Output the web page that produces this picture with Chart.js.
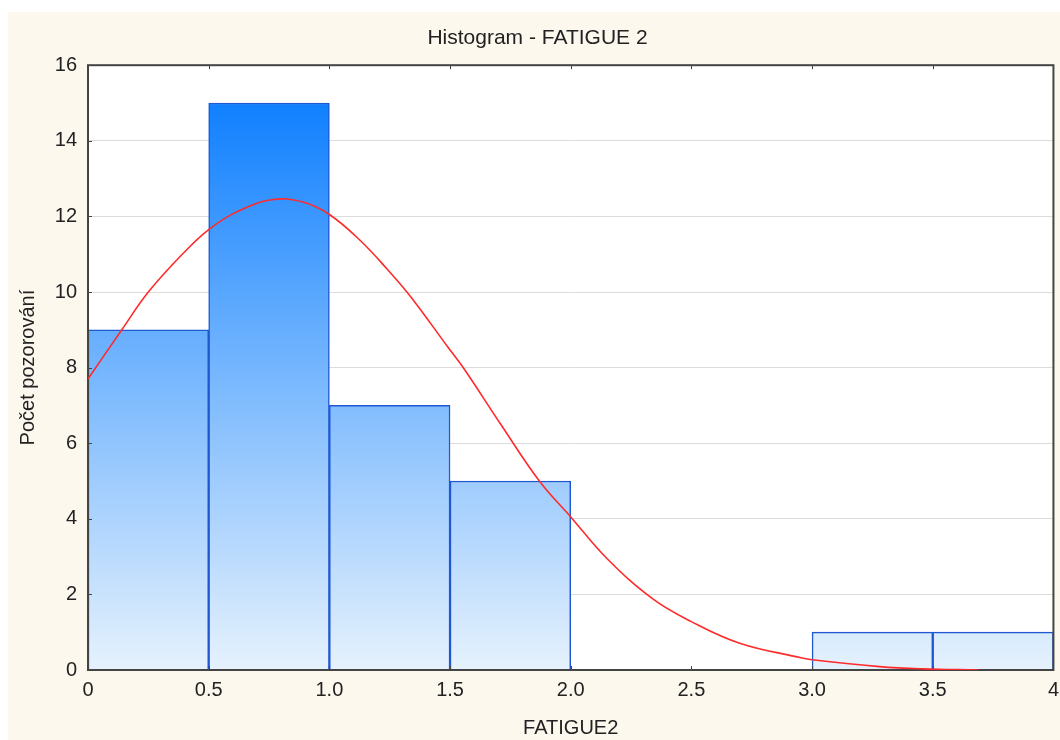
<!DOCTYPE html>
<html>
<head>
<meta charset="utf-8">
<script src="https://cdn.jsdelivr.net/npm/chart.js@4"></script>
<style>
  body { margin: 0; background: #ffffff; overflow: hidden; }
  #wrap { position: absolute; left: 8px; top: 12px; width: 1059px; height: 728px; }
</style>
</head>
<body>
<div id="wrap"><canvas id="myChart"></canvas></div>
<script>
// histogram bins (middle of each 0.5 wide bin) and counts
const binCenters = [0.25, 0.75, 1.25, 1.75, 2.25, 2.75, 3.25, 3.75];
const counts = [9, 15, 7, 5, 0, 0, 1, 1];

// red fitted curve
const curveX = [0, 0.14, 0.25, 0.40, 0.50, 0.61, 0.76, 0.89, 1.00, 1.13, 1.24, 1.34, 1.49, 1.56, 1.71, 1.87, 2.00, 2.15, 2.34, 2.50, 2.70, 2.95, 3.00, 3.28, 3.46, 3.69];
const curveY = [7.7, 9.0, 10.0, 11.06, 11.65, 12.1, 12.44, 12.38, 12.05, 11.35, 10.6, 9.85, 8.55, 7.95, 6.5, 5.0, 4.05, 2.95, 1.88, 1.28, 0.71, 0.33, 0.27, 0.09, 0.03, 0.0];

const xTickLabels = ['0', '0.5', '1.0', '1.5', '2.0', '2.5', '3.0', '3.5', '4'];

const font = 'Liberation Sans, Arial, sans-serif';

//bakgrund + ram runt plotten
const framePlugin = {
    id: 'frame',
    beforeDraw(chart) {
        const c = chart.ctx;
        const a = chart.chartArea;
        c.save();
        c.fillStyle = '#fdf8ee';
        c.fillRect(0, 0, chart.width, chart.height);
        c.fillStyle = '#ffffff';
        c.fillRect(a.left, a.top, a.right - a.left, a.bottom - a.top);
        c.restore();
    },
    afterDatasetDraw(chart, args) {
        if (args.meta.type !== 'bar') return;
        const c = chart.ctx;
        const a = chart.chartArea;
        c.save();
        c.strokeStyle = '#444444';
        c.lineWidth = 2;
        c.strokeRect(a.left, a.top, a.right - a.left, a.bottom - a.top);
        // small inward tick marks
        c.lineWidth = 1;
        const xs = chart.scales.x, ys = chart.scales.y;
        xs.ticks.forEach(t => {
            const px = Math.round(xs.getPixelForValue(t.value)) + 0.5;
            c.beginPath();
            c.moveTo(px, a.bottom); c.lineTo(px, a.bottom - 4);
            c.moveTo(px, a.top); c.lineTo(px, a.top + 4);
            c.stroke();
        });
        ys.ticks.forEach(t => {
            const py = Math.round(ys.getPixelForValue(t.value)) + 0.5;
            c.beginPath();
            c.moveTo(a.left, py); c.lineTo(a.left + 4, py);
            c.stroke();
        });
        c.restore();
    }
};

function barGradient(context) {
    const chart = context.chart;
    const a = chart.chartArea;
    if (!a) return '#7dbafc';
    const ys = chart.scales.y;
    const top = ys.getPixelForValue(Math.max(...counts));
    const g = chart.ctx.createLinearGradient(0, top, 0, a.bottom);
    g.addColorStop(0, '#1080ff');
    g.addColorStop(1, '#e6f2fd');
    return g;
}

const ctx = document.getElementById('myChart').getContext('2d');

const config = {
    type: 'bar',
    data: {
        datasets: [
            {
                type: 'line',
                data: curveX.map((x, i) => ({ x: x, y: curveY[i] })),
                borderColor: '#ff2b2b',
                borderWidth: 1.6,
                pointRadius: 0,
                fill: false,
                tension: 0.4,
                order: 0
            },
            {
                type: 'bar',
                data: binCenters.map((x, i) => ({ x: x, y: counts[i] })),
                backgroundColor: barGradient,
                borderColor: '#1f58d0',
                borderWidth: 1.5,
                barPercentage: 1,
                categoryPercentage: 1,
                order: 1
            }
        ]
    },
    options: {
        responsive: true,
        maintainAspectRatio: false,
        animation: false,
        layout: { padding: { left: 0, right: 0, top: 0, bottom: 0 } },
        plugins: {
            legend: { display: false },
            tooltip: { enabled: false },
            title: {
                display: true,
                text: 'Histogram - FATIGUE 2',
                color: '#222222',
                font: { family: font, size: 21, weight: 'normal' },
                padding: { top: 14, bottom: 14 }
            }
        },
        scales: {
            x: {
                type: 'linear',
                min: 0,
                max: 4,
                offset: false,
                grid: { display: false, offset: false, drawTicks: false },
                border: { display: false },
                ticks: {
                    stepSize: 0.5,
                    padding: 8,
                    color: '#222222',
                    font: { family: font, size: 20 },
                    maxRotation: 0,
                    callback: (v, i) => xTickLabels[i]
                },
                title: {
                    display: true,
                    text: 'FATIGUE2',
                    color: '#222222',
                    font: { family: font, size: 20 },
                    padding: { top: 0, bottom: 0 }
                },
                afterFit: s => { s.height = 70; }
            },
            y: {
                min: 0,
                max: 16,
                grid: { color: '#dcdcdc', lineWidth: 1, drawTicks: false },
                border: { display: false },
                ticks: {
                    stepSize: 2,
                    padding: 11,
                    color: '#222222',
                    font: { family: font, size: 20 }
                },
                title: {
                    display: true,
                    text: 'Počet pozorování',
                    color: '#222222',
                    font: { family: font, size: 20 },
                    padding: { top: 8, bottom: 0 }
                },
                afterFit: s => { s.width = 80; }
            }
        }
    },
    plugins: [framePlugin]
};

const myChart = new Chart(ctx, config);
</script>
</body>
</html>
